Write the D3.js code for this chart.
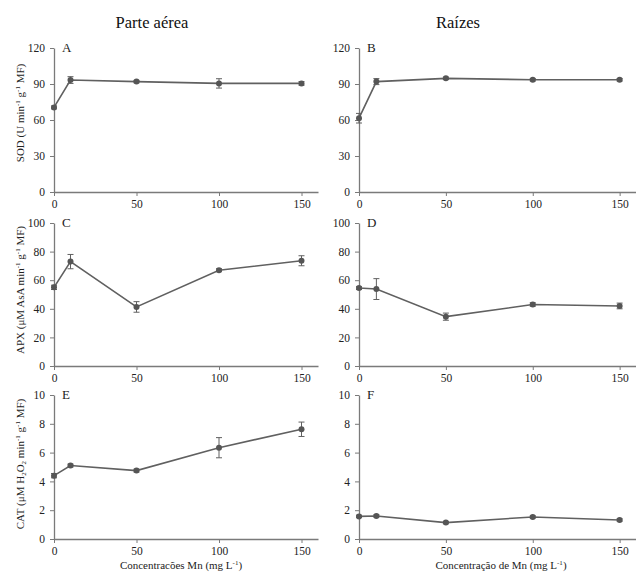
<!DOCTYPE html>
<html>
<head>
<meta charset="utf-8">
<script src="https://cdn.jsdelivr.net/npm/d3@7"></script>
<style>
body { margin: 0; background: #fff; }
svg, svg text { font-family: "Liberation Serif", "Times New Roman", serif; }
</style>
</head>
<body>
<svg id="chart" width="636" height="572"></svg>
<script>
// Mn concentration (mg L-1)
var doses = [0, 10, 50, 100, 150];
var xTicks = [0, 50, 100, 150];

// SOD
var sodShoot = [70.5, 93.3, 92, 90.5, 90.5];
var sodShootErr = [1.2, 2.8, 1, 3.9, 1.5];
var sodRoot = [61.5, 92, 94.7, 93.5, 93.5];
var sodRootErr = [4, 2.5, 1, 1, 1];

// APX
var apxShoot = [55, 73, 41.3, 67, 73.6];
var apxShootErr = [1.5, 5, 3.7, 1, 3.5];
var apxRoot = [54.5, 53.8, 34.5, 43, 42];
var apxRootErr = [1, 7.3, 2.5, 1.2, 2];

// CAT
var catShoot = [4.4, 5.1, 4.75, 6.34, 7.62];
var catShootErr = [0.15, 0.1, 0.1, 0.7, 0.5];
var catRoot = [1.57, 1.6, 1.14, 1.53, 1.32];
var catRootErr = [0.08, 0.08, 0.08, 0.08, 0.08];

var sodTicks = [0, 30, 60, 90, 120];
var apxTicks = [0, 20, 40, 60, 80, 100];
var catTicks = [0, 2, 4, 6, 8, 10];

var svg = d3.select("#chart");
var lineColor = "#606060";
var axisColor = "#7a7a7a";
var serif = "Liberation Serif, Times New Roman, serif";

var cols = [[54, 318], [359, 637]];
var rows = [[48, 192], [223, 366], [395, 539]];

var panels = [
  {lab: "A", c: 0, r: 0, v: sodShoot, e: sodShootErr, max: 120, ticks: sodTicks},
  {lab: "B", c: 1, r: 0, v: sodRoot, e: sodRootErr, max: 120, ticks: sodTicks},
  {lab: "C", c: 0, r: 1, v: apxShoot, e: apxShootErr, max: 100, ticks: apxTicks},
  {lab: "D", c: 1, r: 1, v: apxRoot, e: apxRootErr, max: 100, ticks: apxTicks},
  {lab: "E", c: 0, r: 2, v: catShoot, e: catShootErr, max: 10, ticks: catTicks},
  {lab: "F", c: 1, r: 2, v: catRoot, e: catRootErr, max: 10, ticks: catTicks}
];

panels.forEach(function(p){
  var x = d3.scaleLinear().domain([0, 160]).range(cols[p.c]);
  var y = d3.scaleLinear().domain([0, p.max]).range([rows[p.r][1], rows[p.r][0]]);
  var g = svg.append("g");

  var ya = g.append("g").attr("transform", "translate(" + cols[p.c][0] + ",0)")
    .call(d3.axisLeft(y).tickValues(p.ticks).tickSize(4).tickSizeOuter(0).tickPadding(5));
  var xa = g.append("g").attr("transform", "translate(0," + rows[p.r][1] + ")")
    .call(d3.axisBottom(x).tickValues(xTicks).tickSize(4).tickSizeOuter(0).tickPadding(4));
  [ya, xa].forEach(function(a){
    a.attr("font-family", serif).attr("font-size", 11.5);
    a.select(".domain").attr("stroke", axisColor).attr("stroke-width", 1.3);
    a.selectAll(".tick line").attr("stroke", axisColor);
    a.selectAll("text").attr("fill", "#222");
  });

  g.append("text").attr("x", cols[p.c][0] + 8).attr("y", rows[p.r][0] + 4)
    .attr("font-size", 13).attr("fill", "#222").text(p.lab);

  var pts = doses.map(function(d, i){ return [d, p.v[i], p.e[i]]; });

  var bars = g.selectAll(".err").data(pts).enter().append("g").attr("stroke", lineColor).attr("stroke-width", 1);
  bars.append("line").attr("x1", d => x(d[0])).attr("x2", d => x(d[0]))
    .attr("y1", d => y(d[1] - d[2])).attr("y2", d => y(d[1] + d[2]));
  bars.append("line").attr("x1", d => x(d[0]) - 3).attr("x2", d => x(d[0]) + 3)
    .attr("y1", d => y(d[1] + d[2])).attr("y2", d => y(d[1] + d[2]));
  bars.append("line").attr("x1", d => x(d[0]) - 3).attr("x2", d => x(d[0]) + 3)
    .attr("y1", d => y(d[1] - d[2])).attr("y2", d => y(d[1] - d[2]));

  var line = d3.line().x(d => x(d[0])).y(d => y(d[1]));
  g.append("path").datum(pts).attr("d", line).attr("fill", "none")
    .attr("stroke", lineColor).attr("stroke-width", 1.6);

  g.selectAll(".pt").data(pts).enter().append("circle")
    .attr("cx", d => x(d[0])).attr("cy", d => y(d[1])).attr("r", 3)
    .attr("fill", "#555");
});

// column titles
svg.append("text").attr("x", 152).attr("y", 28).attr("text-anchor", "middle")
  .attr("font-size", 16.5).attr("fill", "#111").text("Parte aérea");
svg.append("text").attr("x", 458).attr("y", 28).attr("text-anchor", "middle")
  .attr("font-size", 16.5).attr("fill", "#111").text("Raízes");

// y axis titles
function yTitle(cy, parts){
  var t = svg.append("text").attr("transform", "translate(24," + cy + ") rotate(-90)")
    .attr("text-anchor", "middle").attr("font-size", 11).attr("fill", "#222");
  parts.forEach(function(s){
    var ts = t.append("tspan").text(s[0]);
    if (s[1] == "sup") ts.attr("font-size", 7).attr("dy", -4);
    if (s[1] == "sub") ts.attr("font-size", 7).attr("dy", 2);
    if (s[1] == "back") ts.attr("dy", s[2]);
  });
}
yTitle(113, [["SOD (U min"], ["-1", "sup"], [" g", "back", 4], ["-1", "sup"], [" MF)", "back", 4]]);
yTitle(290, [["APX (μM AsA min"], ["-1", "sup"], [" g", "back", 4], ["-1", "sup"], [" MF)", "back", 4]]);
yTitle(464, [["CAT (μM H"], ["2", "sub"], ["O", "back", -2], ["2", "sub"], [" min", "back", -2], ["-1", "sup"], [" g", "back", 4], ["-1", "sup"], [" MF)", "back", 4]]);

// x axis titles
function xTitle(cx, s){
  var t = svg.append("text").attr("x", cx).attr("y", 569).attr("text-anchor", "middle")
    .attr("font-size", 11).attr("fill", "#222");
  t.append("tspan").text(s);
  t.append("tspan").text("-1").attr("font-size", 7).attr("dy", -4);
  t.append("tspan").text(")").attr("dy", 4);
}
xTitle(181, "Concentracões Mn (mg L");
xTitle(501, "Concentração de Mn (mg L");
</script>
</body>
</html>
